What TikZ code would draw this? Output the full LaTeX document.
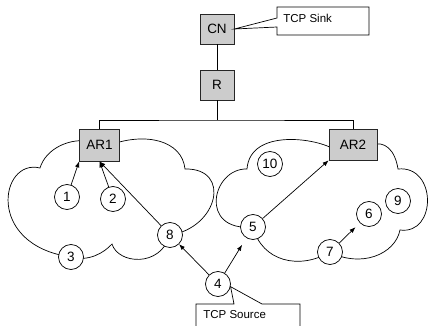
\documentclass[tikz,border=0pt]{standalone}
\usepackage{fontspec}
\setmainfont{Liberation Sans}
\usetikzlibrary{arrows.meta}
\definecolor{boxgray}{RGB}{204,204,204}
\tikzset{
  router/.style={draw=black!85, fill=boxgray, minimum height=30pt, inner sep=0pt, font=\fontsize{13.5}{16}\selectfont},
  host/.style={draw, circle, fill=white, minimum size=25pt, inner sep=0pt, font=\fontsize{13.5}{16}\selectfont},
  callout/.style={font=\fontsize{11.5}{14}\selectfont, anchor=west, inner sep=0pt},
  flow/.style={-{Latex[length=6pt,width=4.5pt]}},
}
\begin{document}
\begin{tikzpicture}[x=1pt,y=-1pt,line width=0.7pt]
  \useasboundingbox (0,0) rectangle (429,326);
  % access network clouds
  \draw (85,141) .. controls (70,139) and (46,148) .. (40,168)
    .. controls (0,158) and (-15,245) .. (71,257)
    .. controls (88,262) and (104,253) .. (112,244)
    .. controls (118,264) and (160,268) .. (170,235)
    .. controls (218,228) and (232,168) .. (185,169)
    .. controls (182,140) and (145,132) .. (110,145) -- cycle;
  \draw (335,150) .. controls (318,138) and (250,128) .. (247,169)
    .. controls (212,168) and (198,232) .. (253,227)
    .. controls (262,262) and (300,270) .. (330,252)
    .. controls (360,268) and (395,255) .. (400,230)
    .. controls (437,235) and (437,165) .. (398,169)
    .. controls (395,150) and (385,140) .. (370,145) -- cycle;

  % routers
  \node[router, minimum width=34pt] (cn) at (217,29) {CN};
  \node[router, minimum width=34pt] (r) at (217,85) {R};
  \node[router, minimum width=40pt, minimum height=32pt] (ar1) at (99.5,145) {AR1};
  \node[router, minimum width=48pt, minimum height=31pt] (ar2) at (353,144.5) {AR2};
  \coordinate (bus) at (217,120);

  % mobile hosts
  \node[host] (n1) at (67,197) {1};
  \node[host] (n2) at (113,199) {2};
  \node[host] (n3) at (71,257) {3};
  \node[host] (n4) at (218,284) {4};
  \node[host] (n5) at (253,227) {5};
  \node[host] (n6) at (369,214) {6};
  \node[host] (n7) at (330,252) {7};
  \node[host] (n8) at (170,235) {8};
  \node[host] (n9) at (398,201) {9};
  \node[host] (n10) at (270,164) {10};

  % callouts
  \draw[fill=white] (277,18) -- (277,7) -- (369,7) -- (369,35) -- (277,35) -- (277,27) -- (cn.east) -- cycle;
  \node[callout] (sink) at (283,18) {TCP Sink};
  \draw[fill=white] (196,327) -- (196,304) -- (234,304) -- (n4.-12) -- (262,304) -- (300,304) -- (300,327);
  \node[callout] (source) at (203,315) {TCP Source};

  % wired part
  \draw (cn) -- (r);
  \draw (r) -- (bus);
  \draw (ar1) |- (bus) -| (ar2);

  \begin{scope}[flow]
    \draw (n1) -- (ar1.south west);
    \draw (n2) -- (ar1.south);
    \draw (n8) -- (ar1.south);
    \draw (n4) -- (n8);
    \draw[shorten >=8pt] (n4) -- (n5);
    \draw (n5) -- (ar2.south west);
    \draw[shorten >=6pt] (n7) -- (n6);
  \end{scope}
\end{tikzpicture}
\end{document}
